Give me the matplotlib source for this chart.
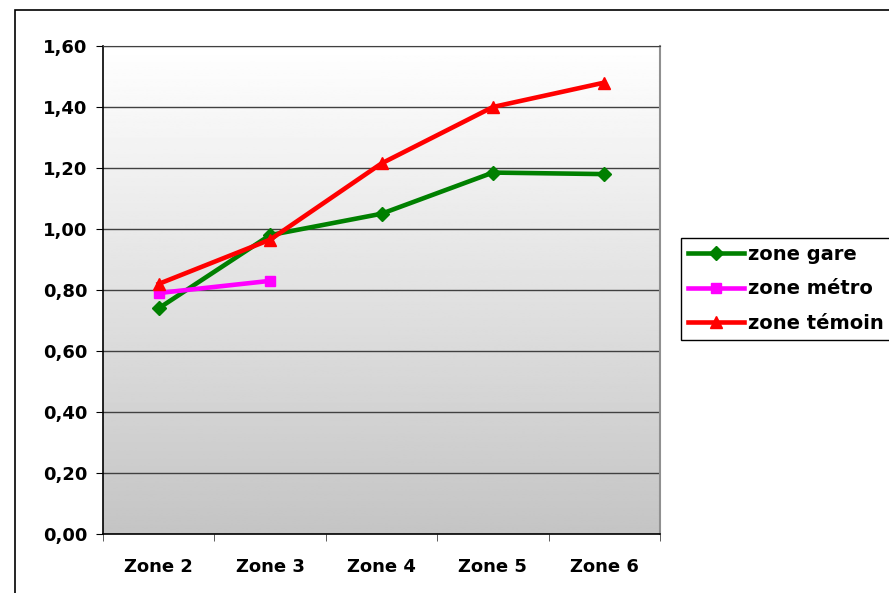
import numpy as np
import matplotlib.pyplot as plt
from matplotlib.patches import Rectangle
from matplotlib.ticker import FuncFormatter

zones = ["Zone 2", "Zone 3", "Zone 4", "Zone 5", "Zone 6"]
gare = [0.74, 0.98, 1.05, 1.185, 1.18]
metro = [0.79, 0.83]
temoin = [0.82, 0.965, 1.215, 1.40, 1.48]

plt.rcParams['font.family'] = ['DejaVu Sans']
plt.rcParams['font.weight'] = 'bold'

fig = plt.figure(figsize=(8.89, 5.93), dpi=100)
ax = fig.add_axes([103/889, 1 - 534/593, 557/889, 488/593])

# outer chart frame
fig.patches.append(Rectangle((15/889, -0.1), 1.0, 1 - 10/593 + 0.1, transform=fig.transFigure,
                             fill=False, edgecolor='black', linewidth=1.2))

# vertical gradient for the plot area
grad = np.linspace(0.77, 1.0, 256).reshape(-1, 1)
ax.imshow(grad, cmap='gray', vmin=0, vmax=1, aspect='auto', origin='lower',
          extent=[-0.5, 4.5, 0, 1.6], zorder=0)

x = np.arange(len(zones))
ax.plot(x, gare, color='#008000', lw=3.3, marker='D', ms=7, zorder=3, label='zone gare')
ax.plot(x[:len(metro)], metro, color='#ff00ff', lw=3.3, marker='s', ms=7, zorder=3, label='zone métro')
ax.plot(x, temoin, color='#ff0000', lw=3.3, marker='^', ms=9, zorder=3, label='zone témoin')

ax.set_xlim(-0.5, 4.5)
ax.set_ylim(0, 1.6)
ax.set_yticks(np.arange(0, 1.61, 0.2))
ax.yaxis.set_major_formatter(FuncFormatter(lambda v, p: f"{v:.2f}".replace('.', ',')))
ax.grid(axis='y', color='#404040', lw=1, zorder=1)
ax.set_axisbelow(True)

ax.set_xticks(x)
ax.set_xticklabels(zones)
ax.set_xticks(np.arange(-0.5, 4.6, 1), minor=True)
ax.tick_params(axis='x', which='major', length=0, pad=17, labelsize=13)
ax.tick_params(axis='x', which='minor', length=5, direction='out', color='#404040')
ax.tick_params(axis='y', length=5, direction='out', labelsize=13, pad=6)

for s in ['left', 'bottom']:
    ax.spines[s].set_color('black')
    ax.spines[s].set_linewidth(1.2)
ax.spines['right'].set_color('#909090')
ax.spines['right'].set_linewidth(1.5)
ax.spines['top'].set_color('#404040')

leg = fig.legend(loc='upper left', bbox_to_anchor=(681/889, 1 - 238/593),
                 frameon=True, fancybox=False, edgecolor='black', framealpha=1,
                 prop={'size': 14, 'weight': 'bold'}, handlelength=2.9,
                 handletextpad=0.2, borderpad=0.35, labelspacing=0.8, borderaxespad=0)
leg.get_frame().set_linewidth(1.0)

fig.savefig('out.png', dpi=100)
